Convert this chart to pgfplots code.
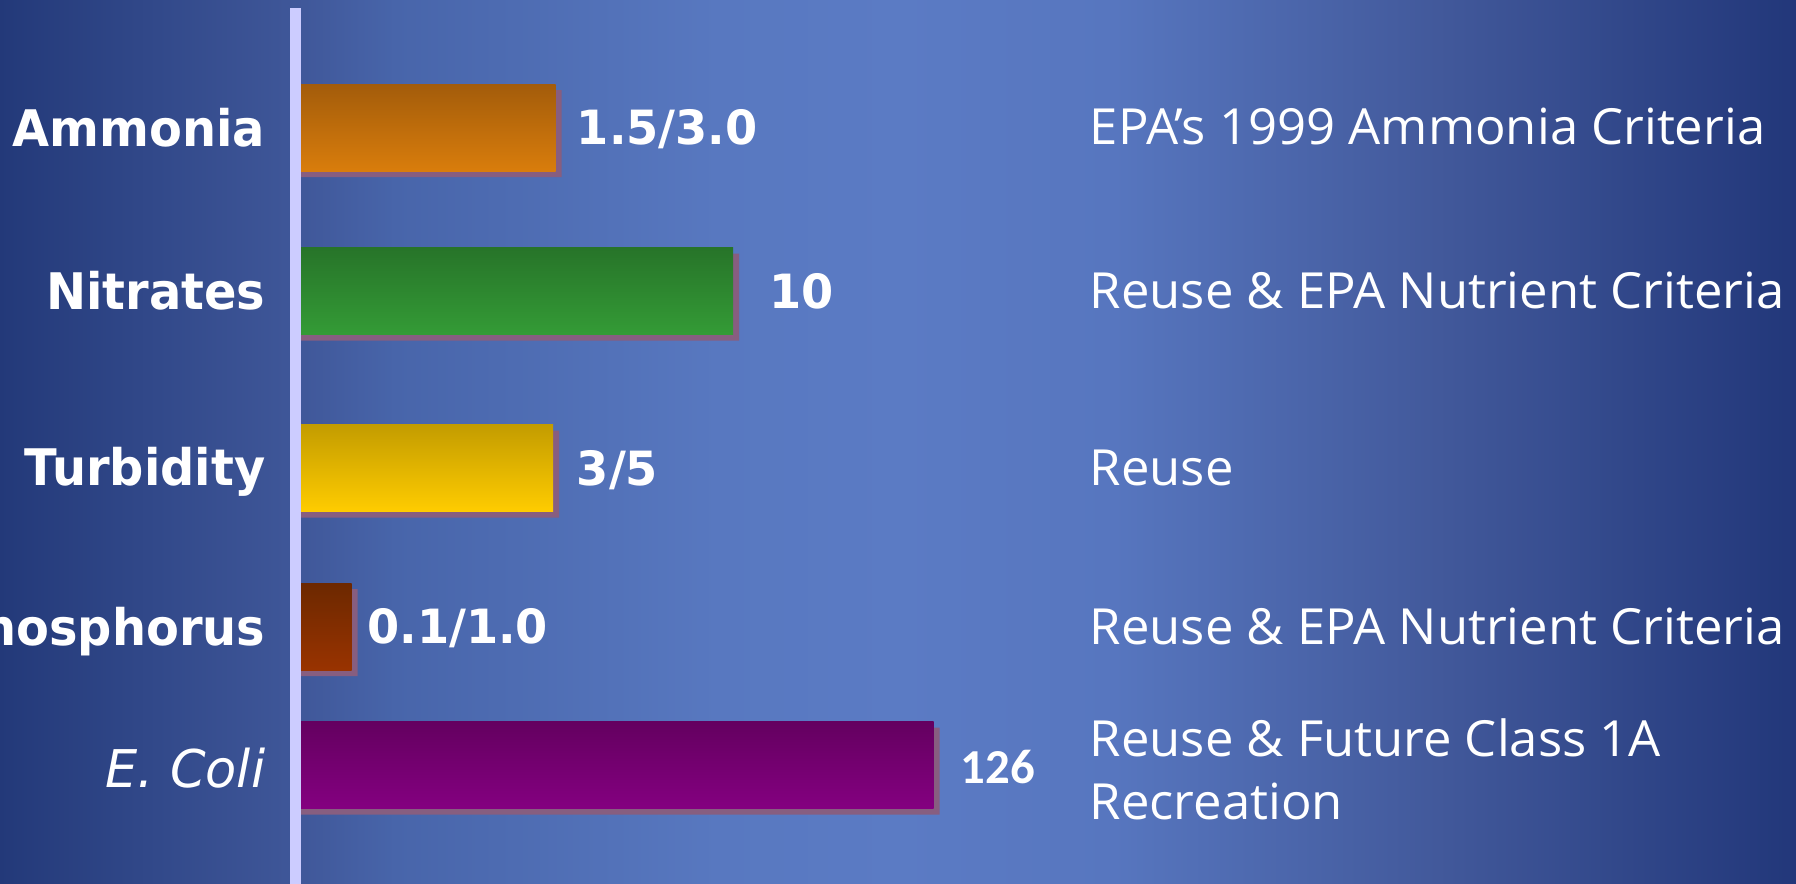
\documentclass[border=0pt]{standalone}
\usepackage{fontspec}
\usepackage{pgfplots}
\pgfplotsset{compat=1.18}
\setmainfont{DejaVu Sans}
\newfontfamily\labfont[FakeStretch=0.95]{DejaVu Sans}
\newfontfamily\valfont[FakeStretch=0.98]{DejaVu Sans}
\newfontfamily\descfont[FakeStretch=1.02]{Open Sans}
\newfontfamily\calfont{Carlito}

\definecolor{axisln}{HTML}{CCCCFF}
\definecolor{shadowc}{HTML}{875E80}
\definecolor{amtop}{HTML}{A35C0B}
\definecolor{ambot}{HTML}{D97D0C}
\definecolor{nitop}{HTML}{277429}
\definecolor{nibot}{HTML}{349B36}
\definecolor{tutop}{HTML}{C39C00}
\definecolor{tubot}{HTML}{FFCC00}
\definecolor{phtop}{HTML}{6C2800}
\definecolor{phbot}{HTML}{993300}
\definecolor{ectop}{HTML}{640060}
\definecolor{ecbot}{HTML}{840080}

% slide background, dark at both sides, light in the middle
% (tikz stretches 25bp..75bp of a shading over the path)
\pgfdeclarehorizontalshading{slidebg}{100bp}{%
  rgb(0bp)=(0.137,0.224,0.475);
  rgb(25bp)=(0.137,0.224,0.475);
  rgb(33.5bp)=(0.251,0.345,0.604);
  rgb(36bp)=(0.282,0.396,0.667);
  rgb(45bp)=(0.345,0.471,0.753);
  rgb(50bp)=(0.357,0.482,0.769);
  rgb(56bp)=(0.341,0.463,0.749);
  rgb(65bp)=(0.259,0.349,0.608);
  rgb(75bp)=(0.133,0.216,0.478);
  rgb(100bp)=(0.133,0.216,0.478)}

\tikzset{txt/.style={text=white, inner sep=0pt}}
\newcommand\catlab{\labfont\bfseries\fontsize{12.6pt}{15pt}\selectfont}
\newcommand\vallab{\valfont\bfseries\fontsize{11.8pt}{14pt}\selectfont}
\newcommand\desclab{\descfont\fontsize{12.45pt}{15pt}\selectfont}

\begin{document}
\begin{tikzpicture}
\path[use as bounding box] (0,0) rectangle (449pt,220.75pt);
\clip (0,0) rectangle (449pt,220.75pt);
\shade[shading=slidebg] (0,0) rectangle (449pt,220.75pt);
\begin{axis}[
  at={(0pt,0pt)}, anchor=south west,
  scale only axis, width=449pt, height=220.75pt,
  xmin=-301, xmax=1495, ymin=0, ymax=883,
  hide axis, clip=false,
  every axis plot/.append style={xbar, bar width=87, bar shift=0pt, draw=none},
]
% vertical axis line
\draw[axisln, line width=2.75pt] (axis cs:-6,875) -- (axis cs:-6,-10);

% drop shadows
\addplot[fill=shadowc] coordinates {(260.5,749.3) (438,586) (258,409) (56.6,250.5) (638.5,112)};

% bars
\addplot[top color=amtop, bottom color=ambot] coordinates {(254.5,755.3)};
\addplot[top color=nitop, bottom color=nibot] coordinates {(432,592)};
\addplot[top color=tutop, bottom color=tubot] coordinates {(252,415)};
\addplot[top color=phtop, bottom color=phbot] coordinates {(50.6,256.5)};
\addplot[top color=ectop, bottom color=ecbot] coordinates {(632.5,118)};

% category labels
\node[txt, anchor=base east] at (axis cs:-35,736.8) {\catlab Ammonia};
\node[txt, anchor=base east] at (axis cs:-35,573.5) {\catlab Nitrates};
\node[txt, anchor=base east] at (axis cs:-35,397.2) {\catlab Turbidity};
\node[txt, anchor=base east] at (axis cs:-35,238) {\catlab Phosphorus};
\node[txt, anchor=base east] at (axis cs:-35,96) {\valfont\itshape\fontsize{13pt}{15pt}\selectfont E. Coli};

% value labels
\node[txt, anchor=base west] at (axis cs:275,738.3) {\vallab 1.5/3.0};
\node[txt, anchor=base west] at (axis cs:467.5,575) {\vallab 10};
\node[txt, anchor=base west] at (axis cs:275,398) {\vallab 3/5};
\node[txt, anchor=base west] at (axis cs:65.5,239.5) {\vallab 0.1/1.0};
\node[txt, anchor=base west] at (axis cs:659,99.5) {\calfont\bfseries\fontsize{12.2pt}{14pt}\selectfont 126};

% descriptions
\node[txt, anchor=base west] at (axis cs:788,738.2) {\desclab EPA’s 1999 Ammonia Criteria};
\node[txt, anchor=base west] at (axis cs:788,574.4) {\desclab Reuse \& EPA Nutrient Criteria};
\node[txt, anchor=base west] at (axis cs:788,398) {\desclab Reuse};
\node[txt, anchor=base west] at (axis cs:788,238.8) {\desclab Reuse \& EPA Nutrient Criteria};
\node[txt, anchor=base west] at (axis cs:788,126.5) {\desclab Reuse \& Future Class 1A};
\node[txt, anchor=base west] at (axis cs:788,63.5) {\desclab Recreation};
\end{axis}
\end{tikzpicture}
\end{document}
